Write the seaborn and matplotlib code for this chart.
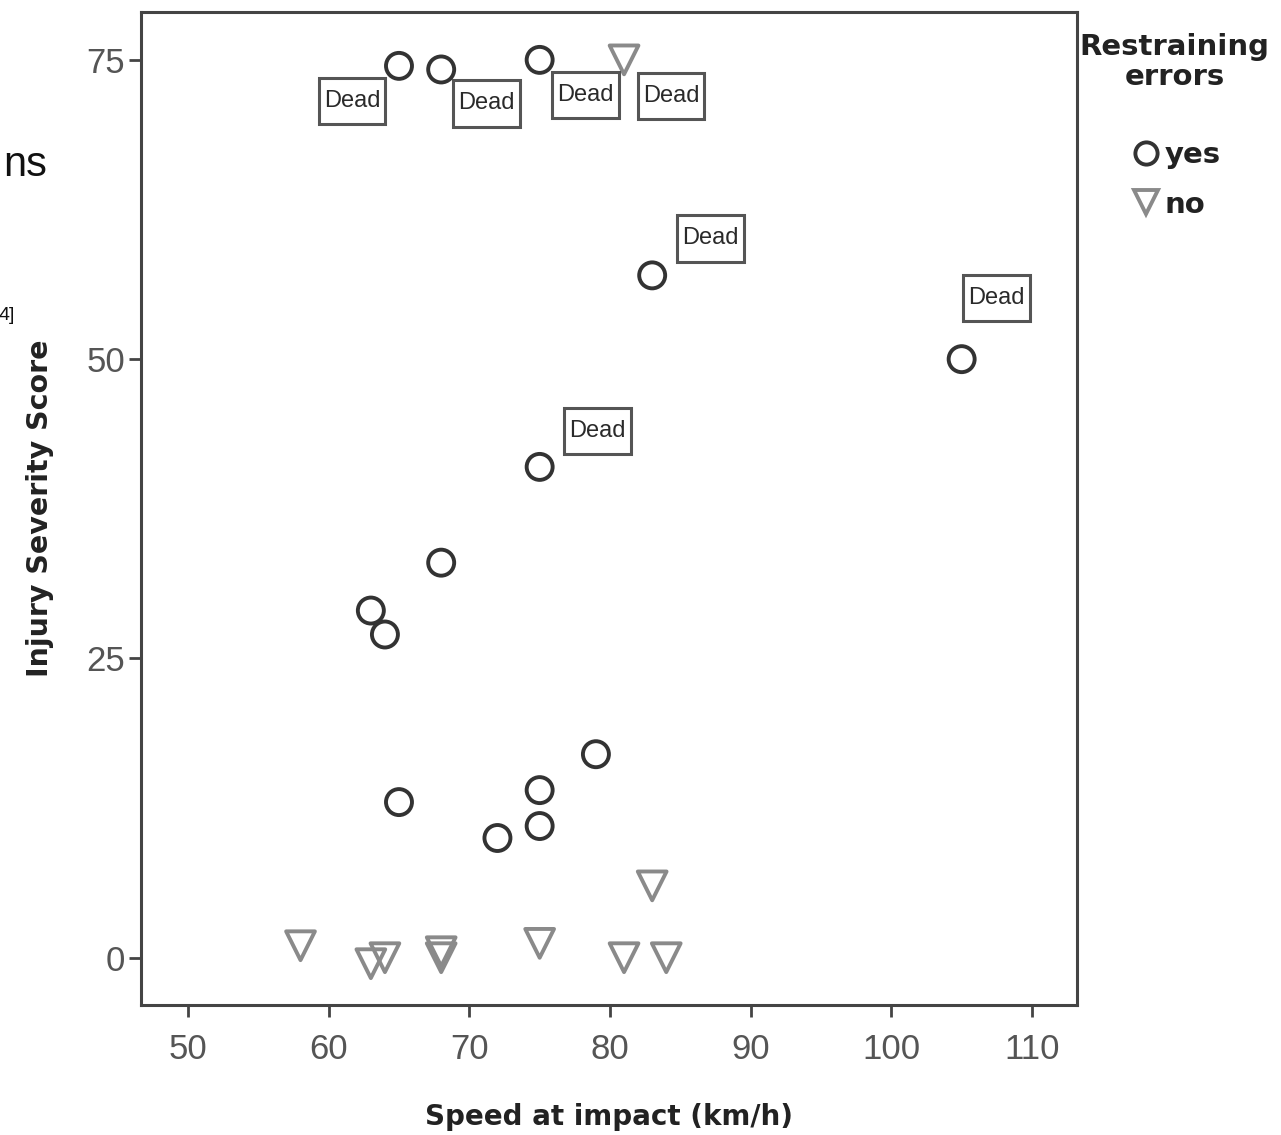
import matplotlib
matplotlib.use("Agg")
import matplotlib.pyplot as plt
from matplotlib import font_manager
from matplotlib.lines import Line2D
from matplotlib.path import Path
import seaborn as sns
import pandas as pd

# ---------------- data ----------------
speed_yes = [65, 68, 75, 83, 105, 75, 68, 63, 64, 79, 65, 75, 75, 72]
iss_yes = [74.5, 74.2, 75, 57, 50, 41, 33, 29, 27, 17, 13, 14, 11, 10]
dead_yes = [1, 1, 1, 1, 1, 1, 0, 0, 0, 0, 0, 0, 0, 0]

speed_no = [81, 83, 58, 63, 64, 68, 68, 75, 81, 84]
iss_no = [75, 6, 1, -0.5, 0, 0.5, 0, 1.2, 0, 0]
dead_no = [1, 0, 0, 0, 0, 0, 0, 0, 0, 0]

groups = ["yes", "no"]
x_ticks = [50, 60, 70, 80, 90, 100, 110]
y_ticks = [0, 25, 50, 75]
dead_label = "Dead"

# label placement (pixel offsets of the "Dead" boxes, in drawing order)
dead_offsets = [(-47, -35), (45, -34), (46, -35), (58, 37), (35, 61), (58, 36), (47, -36)]

# ---------------- style ----------------
sns.set_theme(style="white")
names = {f.name for f in font_manager.fontManager.ttflist}
narrow = "Liberation Sans Narrow" if "Liberation Sans Narrow" in names else "Liberation Sans"
plt.rcParams["font.family"] = [narrow, "DejaVu Sans"]

df = pd.concat([
    pd.DataFrame({"speed": speed_yes, "iss": iss_yes, "dead": dead_yes, "err": "yes"}),
    pd.DataFrame({"speed": speed_no, "iss": iss_no, "dead": dead_no, "err": "no"}),
], ignore_index=True)

fig = plt.figure(figsize=(12.81, 11.35), dpi=100)
ax = fig.add_axes([141 / 1281, 1 - 1005 / 1135, (1077 - 141) / 1281, (1005 - 12) / 1135])

marker_map = {"yes": "o", "no": "v"}
color_map = {"yes": "#333333", "no": "#8a8a8a"}
size_map = {"yes": 350, "no": 430}

for g in groups:
    sub = df[df["err"] == g]
    sns.scatterplot(data=sub, x="speed", y="iss", marker=marker_map[g], s=size_map[g],
                    facecolors="none", edgecolor=color_map[g], linewidth=2.8,
                    ax=ax, legend=False, zorder=3)


def dead_box(x0, y0, width, height, mutation_size):
    px = 0.22 * mutation_size
    py = 0.52 * mutation_size
    xa, xb = x0 - px, x0 + width + px
    ya, yb = y0 - py, y0 + height + py
    return Path([(xa, ya), (xb, ya), (xb, yb), (xa, yb), (xa, ya)],
                [Path.MOVETO, Path.LINETO, Path.LINETO, Path.LINETO, Path.CLOSEPOLY])


# Dead labels
dd = df[df["dead"] == 1].reset_index(drop=True)
for i, row in dd.iterrows():
    dx, dy = dead_offsets[i]
    ax.annotate(dead_label, xy=(row["speed"], row["iss"]), xytext=(dx, dy),
                textcoords="offset pixels", ha="center", va="center",
                fontsize=17, family=["Liberation Sans", "DejaVu Sans"], color="#2a2a2a",
                bbox=dict(boxstyle=dead_box, fc="white", ec="#555555", lw=2.2),
                zorder=4)

ax.set_xlim(46.66, 113.2)
ax.set_ylim(-3.95, 79.0)
ax.set_xticks(x_ticks)
ax.set_yticks(y_ticks)
ax.tick_params(axis="both", which="major", direction="out", length=8.5, width=2,
               color="#444444", labelsize=25, labelcolor="#555555",
               bottom=True, left=True)
ax.tick_params(axis="x", pad=12)
ax.tick_params(axis="y", pad=3)
for s in ax.spines.values():
    s.set_color("#444444")
    s.set_linewidth(2.2)

ax.set_xlabel("Speed at impact (km/h)", fontsize=20, fontweight="bold",
              family=["DejaVu Sans"], color="#222222", labelpad=26)
ax.set_ylabel("Injury Severity Score", fontsize=20.5, fontweight="bold",
              family=["DejaVu Sans"], color="#222222", labelpad=23)

# legend
handles = [
    Line2D([], [], marker="o", ls="none", markersize=16, markerfacecolor="none",
           markeredgecolor=color_map["yes"], markeredgewidth=2.8),
    Line2D([], [], marker="v", ls="none", markersize=17, markerfacecolor="none",
           markeredgecolor=color_map["no"], markeredgewidth=2.8),
]
leg = fig.legend(handles, groups, title="Restraining\nerrors", loc="upper left",
                 bbox_to_anchor=(1065 / 1281, 1 - 18 / 1135), frameon=False,
                 prop={"family": "DejaVu Sans", "weight": "bold", "size": 21},
                 title_fontproperties={"family": "DejaVu Sans", "weight": "bold", "size": 21},
                 handletextpad=0.05, handlelength=1.2, labelspacing=0.75, borderpad=0,
                 alignment="center")
leg.get_title().set_multialignment("center")
leg.get_title().set_linespacing(1.1)
leg._legend_box.sep = 36
for t in leg.get_texts():
    t.set_color("#222222")
leg.get_title().set_color("#222222")

# stray page text visible in the source crop
fig.text(47 / 1281, 1 - 165 / 1135, "ns", ha="right", va="center", fontsize=30,
         family=["Liberation Sans", "DejaVu Sans"], color="#111111")
fig.text(15 / 1281, 1 - 316 / 1135, "4]", ha="right", va="center", fontsize=14,
         family=["Liberation Sans", "DejaVu Sans"], color="#111111")

fig.savefig("out.png", dpi=100, facecolor="white")
